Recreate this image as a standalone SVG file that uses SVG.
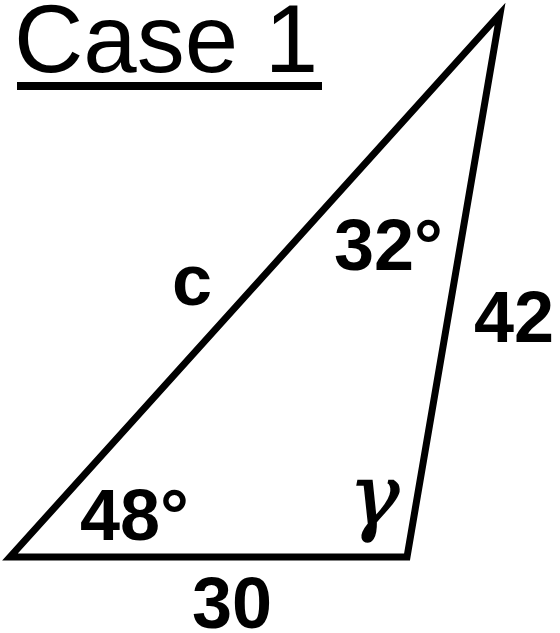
<svg xmlns="http://www.w3.org/2000/svg" width="560" height="633" viewBox="0 0 560 633">
<style>
.lbl{font-family:"Liberation Sans",Arial,sans-serif;font-weight:bold;font-size:72px;fill:#000}
.edge{stroke:#000;stroke-width:7;fill:none;stroke-linejoin:miter}
</style>
<rect width="560" height="633" fill="#fff"/>
<g id="title">
<text x="14" y="72" font-family="Liberation Sans,Arial,sans-serif" font-size="96" fill="#000">Case 1</text>
<rect x="17" y="82" width="305" height="8" fill="#000"/>
</g>
<g id="connectors">
<polygon class="edge" points="10,557 407,557 500,14"/>
</g>
<g id="label-c"><text class="lbl" x="172" y="305">c</text></g>
<g id="label-32"><text class="lbl" x="334" y="270">32°</text></g>
<g id="label-42"><text class="lbl" x="474" y="342">42</text></g>
<g id="label-48"><text class="lbl" x="80" y="540">48°</text></g>
<g id="label-30"><text class="lbl" x="192" y="628">30</text></g>
<g id="label-gamma"><text x="349" y="524" font-family="DejaVu Serif,serif" font-style="italic" font-size="84" fill="#000" stroke="#000" stroke-width="1.5">γ</text></g>
</svg>
